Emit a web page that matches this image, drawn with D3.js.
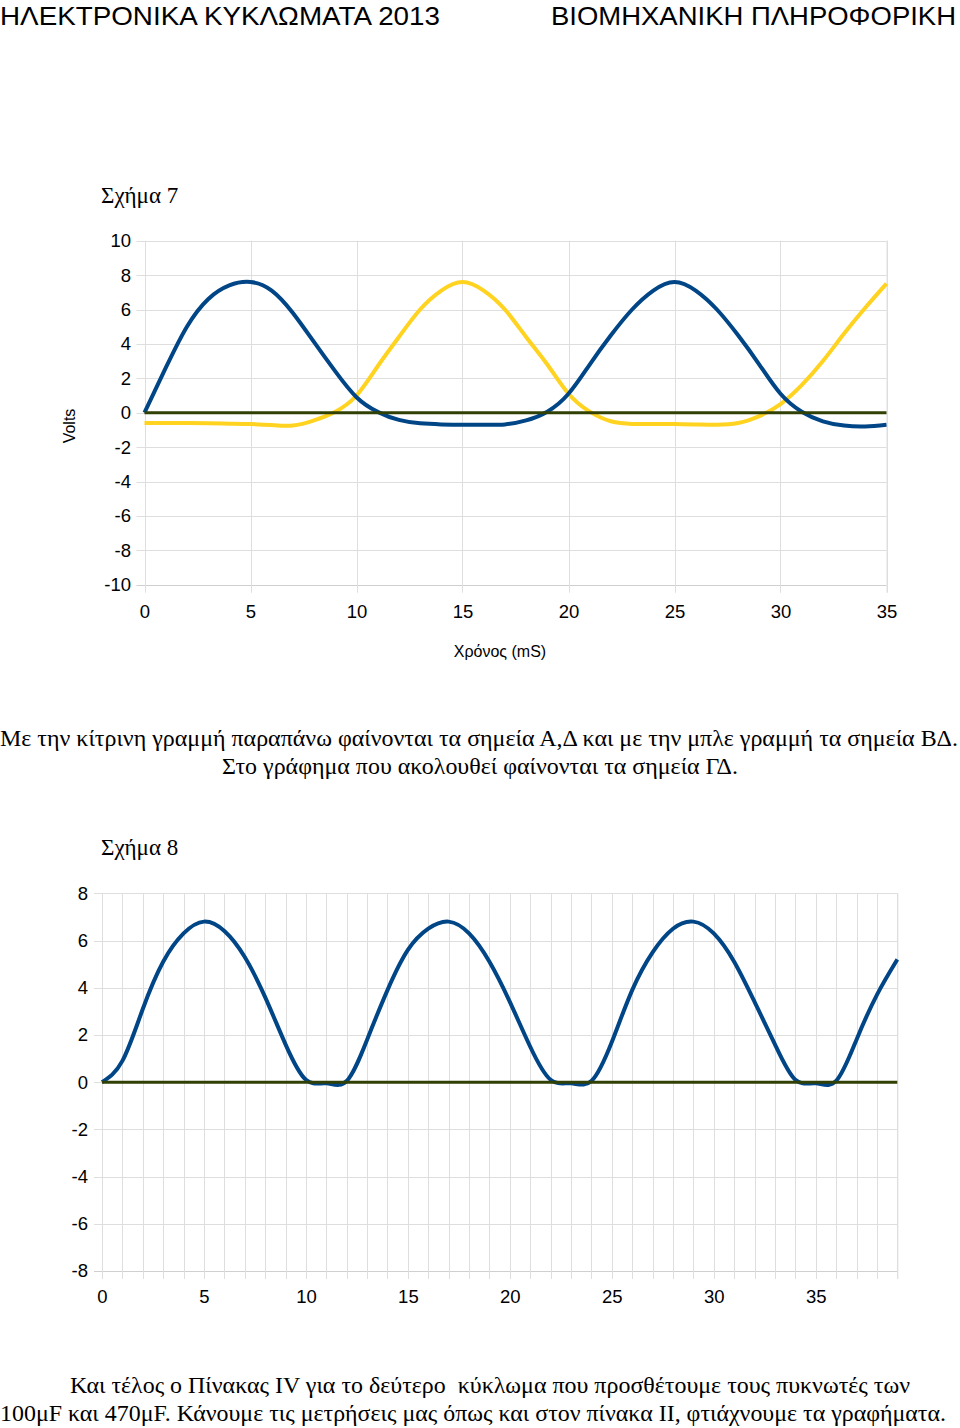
<!DOCTYPE html>
<html>
<head>
<meta charset="utf-8">
<script src="https://cdn.jsdelivr.net/npm/d3@7"></script>
<style>
  html, body { margin: 0; padding: 0; background: #fff; }
  svg { display: block; }
  text { white-space: pre; }
</style>
</head>
<body>
<svg id="page" width="960" height="1428"></svg>
<script>
// ---------- DATA ----------
// Figure 7 (Σχήμα 7): time in ms, volts
const fig7Time = [0,1,2,3,4,5,6,7,8,9,10,11,12,13,14,15,16,17,18,19,20,21,22,23,24,25,26,27,28,29,30,31,32,33,34,35];
const fig7Blue = [0,2.6,5.0,6.6,7.4,7.6,7.1,5.8,4.1,2.4,0.9,0.05,-0.42,-0.62,-0.68,-0.7,-0.7,-0.68,-0.45,0.06,1.1,2.8,4.5,6.0,7.1,7.6,7.1,6.0,4.5,2.8,1.1,0.06,-0.5,-0.75,-0.8,-0.7];
const fig7Yellow = [-0.6,-0.6,-0.6,-0.62,-0.64,-0.66,-0.72,-0.75,-0.45,0.06,1.0,2.7,4.4,6.0,7.1,7.6,7.1,6.0,4.4,2.8,1.1,0.06,-0.5,-0.65,-0.65,-0.66,-0.68,-0.7,-0.6,-0.2,0.5,1.6,3.0,4.6,6.1,7.5];
const fig7Zero = [{t:0, v:0}, {t:35, v:0}];
const fig7XTicks = [0,5,10,15,20,25,30,35];
const fig7YTicks = [-10,-8,-6,-4,-2,0,2,4,6,8,10];

// Figure 8 (Σχήμα 8)
const fig8Time = [0,1,2,3,4,5,6,7,8,9,10,11,12,13,14,15,16,17,18,19,20,21,22,23,24,25,26,27,28,29,30,31,32,33,34,35,36,37,38,39];
const fig8Blue = [0,0.9,3.1,5.1,6.3,6.8,6.4,5.3,3.6,1.6,0.1,-0.05,0.05,1.8,3.9,5.6,6.5,6.8,6.3,5.1,3.4,1.5,0.1,-0.05,0.05,1.7,3.9,5.5,6.5,6.8,6.3,5.1,3.4,1.6,0.1,-0.05,0.05,1.8,3.7,5.2];
const fig8Zero = [{t:0, v:0}, {t:39, v:0}];
const fig8XTicks = [0,5,10,15,20,25,30,35];
const fig8XGrid = d3.range(0, 40, 1);
const fig8YTicks = [-8,-6,-4,-2,0,2,4,6,8];

// Text
const headerLeft = "ΗΛΕΚΤΡΟΝΙΚΑ ΚΥΚΛΩΜΑΤΑ 2013";
const headerRight = "ΒΙΟΜΗΧΑΝΙΚΗ ΠΛΗΡΟΦΟΡΙΚΗ";
const para1 = ["Με την κίτρινη γραμμή παραπάνω φαίνονται τα σημεία Α,Δ και με την μπλε γραμμή τα σημεία ΒΔ.",
               "Στο γράφημα που ακολουθεί φαίνονται τα σημεία ΓΔ."];
const para2 = ["Και τέλος ο Πίνακας IV για το δεύτερο  κύκλωμα που προσθέτουμε τους πυκνωτές των",
               "100μF και 470μF. Κάνουμε τις μετρήσεις μας όπως και στον πίνακα II, φτιάχνουμε τα γραφήματα."];

// ---------- STYLE ----------
const BLUE = "#004586", YELLOW = "#ffd320", OLIVE = "#314004", GRID = "#dedede";
const SANS = "'Liberation Sans', Arial, sans-serif";
const SERIF = "'Liberation Serif', 'Times New Roman', serif";
const NARROW = "'Liberation Sans Narrow', 'Arial Narrow', 'Liberation Sans', sans-serif";

const svg = d3.select("#page");

function fitText(x, y, size, family, len, str, anchor) {
  return svg.append("text").attr("x", x).attr("y", y).attr("font-family", family).attr("font-size", size)
    .attr("textLength", len).attr("lengthAdjust", "spacingAndGlyphs")
    .attr("text-anchor", anchor || "start").attr("fill", "#000").text(str);
}

// Header
fitText(0, 24.5, 26.5, NARROW, 440, headerLeft);
fitText(551, 24.5, 26.5, NARROW, 405, headerRight);

function drawChart(cfg) {
  const g = svg.append("g");
  const x = d3.scaleLinear().domain(cfg.xDomain).range(cfg.xRange);
  const y = d3.scaleLinear().domain(cfg.yDomain).range(cfg.yRange);
  const [x0, x1] = cfg.xRange, [yb, yt] = cfg.yRange;

  // title
  g.append("text").attr("x", cfg.titleX).attr("y", cfg.titleY).attr("font-family", SERIF)
    .attr("font-size", 23).text(cfg.title);

  // horizontal grid (extends left as tick)
  g.selectAll(".hg").data(cfg.yTicks).join("line")
    .attr("x1", x0 - 8).attr("x2", x1)
    .attr("y1", d => Math.round(y(d)) + 0.5).attr("y2", d => Math.round(y(d)) + 0.5)
    .attr("stroke", d => d === cfg.yDomain[0] ? "#cfcfcf" : GRID).attr("stroke-width", 1);
  // vertical grid (extends down as tick)
  g.selectAll(".vg").data(cfg.xGrid).join("line")
    .attr("x1", d => Math.round(x(d)) + 0.5).attr("x2", d => Math.round(x(d)) + 0.5)
    .attr("y1", yt).attr("y2", yb + 8)
    .attr("stroke", GRID).attr("stroke-width", 1);
  // right border
  g.append("line").attr("x1", x1 + 0.5).attr("x2", x1 + 0.5).attr("y1", yt).attr("y2", yb + 8)
    .attr("stroke", GRID);

  // y axis labels
  const yAxis = d3.axisLeft(y).tickValues(cfg.yTicks).tickSize(0).tickPadding(0).tickFormat(d => String(d));
  const ya = g.append("g").attr("transform", `translate(${cfg.yLabelX},0)`).call(yAxis);
  ya.select(".domain").remove();
  ya.selectAll("text").attr("font-family", SANS).attr("font-size", 18.5).attr("fill", "#000");

  // x axis labels
  const xAxis = d3.axisBottom(x).tickValues(cfg.xTicks).tickSize(0).tickPadding(0).tickFormat(d => String(d));
  const xa = g.append("g").attr("transform", `translate(0,${cfg.xLabelY})`).call(xAxis);
  xa.select(".domain").remove();
  xa.selectAll("text").attr("font-family", SANS).attr("font-size", 18.5).attr("fill", "#000");

  const line = d3.line().x(d => x(d.t)).y(d => y(d.v)).curve(d3.curveNatural);
  const straight = d3.line().x(d => x(d.t)).y(d => y(d.v));

  cfg.series.forEach(s => {
    g.append("path").datum(s.time.map((t, i) => ({t, v: s.values[i]})))
      .attr("d", line).attr("fill", "none").attr("stroke", s.color)
      .attr("stroke-width", 4).attr("stroke-linejoin", "round").attr("stroke-linecap", "butt");
  });
  g.append("path").datum(cfg.zero).attr("d", straight).attr("fill", "none")
    .attr("stroke", OLIVE).attr("stroke-width", 3);
  return {g, x, y};
}

// Chart 1
const c1 = drawChart({
  title: "Σχήμα 7", titleX: 101, titleY: 203,
  xDomain: [0, 35], xRange: [144.5, 886.5],
  yDomain: [-10, 10], yRange: [584.7, 240.7],
  xTicks: fig7XTicks, xGrid: fig7XTicks, yTicks: fig7YTicks,
  yLabelX: 131, xLabelY: 605,
  series: [
    {time: fig7Time, values: fig7Yellow, color: YELLOW},
    {time: fig7Time, values: fig7Blue, color: BLUE}
  ],
  zero: fig7Zero
});
c1.g.append("text").attr("transform", "translate(75,426) rotate(-90)").attr("text-anchor", "middle")
  .attr("font-family", SANS).attr("font-size", 16).text("Volts");
c1.g.append("text").attr("x", 500).attr("y", 657).attr("text-anchor", "middle")
  .attr("font-family", SANS).attr("font-size", 16).text("Χρόνος (mS)");

// Paragraph 1
fitText(0, 746, 23, SERIF, 958, para1[0]);
fitText(222, 774, 23, SERIF, 516, para1[1]);

// Chart 2
drawChart({
  title: "Σχήμα 8", titleX: 101, titleY: 855,
  xDomain: [0, 39], xRange: [102, 897.3],
  yDomain: [-8, 8], yRange: [1271, 893.3],
  xTicks: fig8XTicks, xGrid: fig8XGrid, yTicks: fig8YTicks,
  yLabelX: 88, xLabelY: 1290,
  series: [
    {time: fig8Time, values: fig8Blue, color: BLUE}
  ],
  zero: fig8Zero
});

// Paragraph 2
fitText(70, 1393, 23, SERIF, 840, para2[0]);
fitText(0, 1421, 23, SERIF, 946, para2[1]);
</script>
</body>
</html>
